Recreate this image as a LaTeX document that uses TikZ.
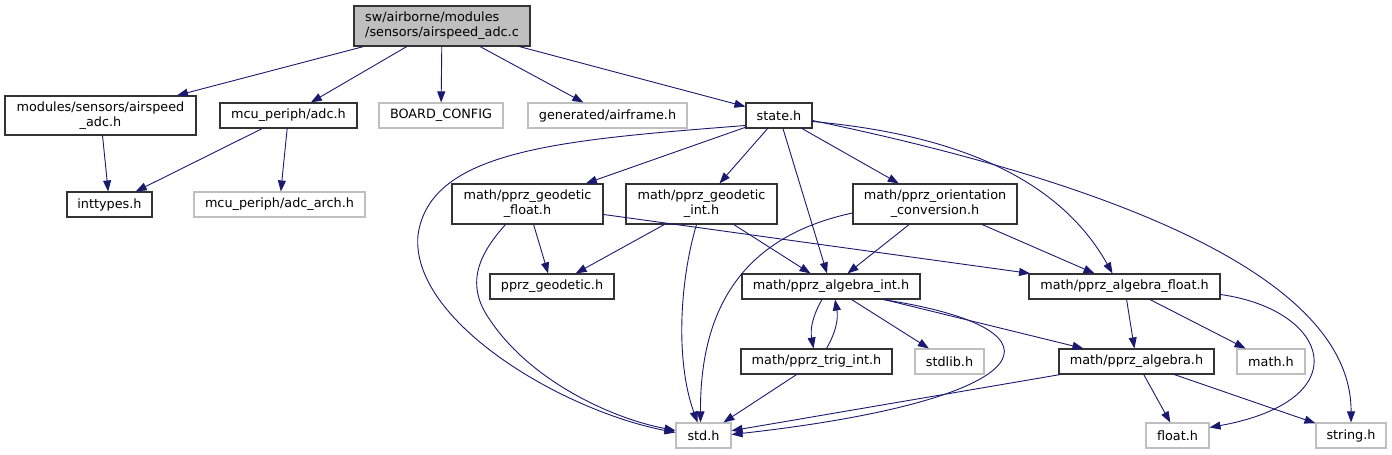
\documentclass[tikz,border=0pt]{standalone}
\usepackage{fontspec}
\setmainfont{DejaVu Sans}
\usetikzlibrary{arrows.meta, positioning}
\definecolor{edgeblue}{RGB}{25,25,112}
\definecolor{boxgray}{RGB}{191,191,191}
\tikzstyle{hdr} = [draw=black!80, line width=1.1pt, rectangle, inner sep=0pt, minimum height=25pt, align=center, font=\fontsize{12.8}{15}\selectfont]
\tikzstyle{ext} = [hdr, draw=boxgray]
\tikzstyle{src} = [hdr, fill=boxgray, align=left]
\tikzstyle{arrow} = [draw=edgeblue, line width=0.9pt, -{Triangle[length=11pt,width=8pt]}]

\begin{document}
\begin{tikzpicture}[x=1pt, y=-1pt]
    \useasboundingbox (0,0) rectangle (1392,455);

    % Source file
    \node (root) [src, minimum width=176pt, minimum height=40pt] at (442,26) {sw/airborne/modules\\/sensors/airspeed\_adc.c};

    % First level
    \node (airspeed) [hdr, minimum width=191pt, minimum height=39pt] at (100.5,115.5) {modules/sensors/airspeed\\\_adc.h};
    \node (adc) [hdr, minimum width=137pt] at (288.5,115.5) {mcu\_periph/adc.h};
    \node (board) [ext, minimum width=124pt] at (441,115.5) {BOARD\_CONFIG};
    \node (airframe) [ext, minimum width=159pt] at (607.5,115.5) {generated/airframe.h};
    \node (state) [hdr, minimum width=66pt] at (779,115.5) {state.h};

    % Second level
    \node (inttypes) [hdr, minimum width=85pt] at (109.5,204.5) {inttypes.h};
    \node (adcarch) [ext, minimum width=171pt] at (279.5,204.5) {mcu\_periph/adc\_arch.h};
    \node (gfloat) [hdr, minimum width=151pt, minimum height=40pt] at (527.5,204) {math/pprz\_geodetic\\\_float.h};
    \node (gint) [hdr, minimum width=151pt, minimum height=40pt] at (701.5,204) {math/pprz\_geodetic\\\_int.h};
    \node (orient) [hdr, minimum width=164pt, minimum height=40pt] at (935,204) {math/pprz\_orientation\\\_conversion.h};

    % Third level
    \node (geodetic) [hdr, minimum width=124pt] at (552,286.5) {pprz\_geodetic.h};
    \node (aint) [hdr, minimum width=178pt] at (831,286.5) {math/pprz\_algebra\_int.h};
    \node (afloat) [hdr, minimum width=191pt] at (1124.5,286.5) {math/pprz\_algebra\_float.h};

    % Fourth level
    \node (trig) [hdr, minimum width=151pt] at (816.5,361.5) {math/pprz\_trig\_int.h};
    \node (stdlib) [ext, minimum width=69pt] at (949.5,361.5) {stdlib.h};
    \node (palgebra) [hdr, minimum width=155pt] at (1136.5,361.5) {math/pprz\_algebra.h};
    \node (mathh) [ext, minimum width=68pt] at (1271,361.5) {math.h};

    % Bottom
    \node (std) [ext, minimum width=55pt] at (703.5,435.5) {std.h};
    \node (floath) [ext, minimum width=63pt] at (1177.5,435.5) {float.h};
    \node (stringh) [ext, minimum width=70pt] at (1351,435.5) {string.h};

    % Connections
    \draw [arrow] (root) -- (airspeed);
    \draw [arrow] (root) -- (adc);
    \draw [arrow] (root) -- (board);
    \draw [arrow] (root) -- (airframe);
    \draw [arrow] (root) -- (state);
    \draw [arrow] (airspeed) -- (inttypes);
    \draw [arrow] (adc) -- (inttypes);
    \draw [arrow] (adc) -- (adcarch);

    \draw [arrow] ([yshift=-10pt]state.west) .. controls (560,140) and (430,150) .. (418,235) .. controls (410,320) and (560,410) .. ([yshift=3pt]std.west);
    \draw [arrow] (state) -- (gfloat);
    \draw [arrow] (state) -- (gint);
    \draw [arrow] (state) -- (aint);
    \draw [arrow] (state) -- (orient);
    \draw [arrow] ([yshift=-6pt]state.east) .. controls (960,135) and (1060,180) .. ([xshift=-12pt]afloat.north);
    \draw [arrow] ([yshift=-5pt]state.east) .. controls (1050,170) and (1352,260) .. (stringh.north);

    \draw [arrow] ([xshift=-22pt]gfloat.south) .. controls (478,255) and (465,285) .. (490,320) .. controls (530,380) and (610,418) .. ([yshift=5pt]std.west);
    \draw [arrow] (gfloat) -- (geodetic);
    \draw [arrow] (gfloat) -- (afloat);
    \draw [arrow] (gint) -- (geodetic);
    \draw [arrow] ([xshift=-5pt]gint.south) .. controls (680,280) and (675,360) .. ([xshift=-6pt]std.north);
    \draw [arrow] (gint) -- (aint);
    \draw [arrow] ([yshift=-9pt]orient.west) .. controls (750,235) and (700,300) .. ([xshift=-3pt]std.north);
    \draw [arrow] (orient) -- (aint);
    \draw [arrow] (orient) -- (afloat);

    \draw [arrow] ([xshift=-9pt]aint.south) to [bend right=20] ([xshift=-3pt]trig.north);
    \draw [arrow] ([xshift=10pt]trig.north) to [bend right=20] ([xshift=4pt]aint.south);
    \draw [arrow] (aint) -- (stdlib);
    \draw [arrow] (aint) -- (palgebra);
    \draw [arrow] ([xshift=52pt]aint.south) .. controls (1080,330) and (1040,400) .. ([yshift=1pt]std.east);
    \draw [arrow] (trig) -- (std);

    \draw [arrow] (afloat) -- (palgebra);
    \draw [arrow] (afloat) -- (mathh);
    \draw [arrow] ([yshift=-8pt]afloat.east) .. controls (1330,310) and (1360,400) .. ([yshift=8pt]floath.east);
    \draw [arrow] (palgebra) -- (std);
    \draw [arrow] (palgebra) -- (floath);
    \draw [arrow] (palgebra) -- (stringh);
\end{tikzpicture}
\end{document}
